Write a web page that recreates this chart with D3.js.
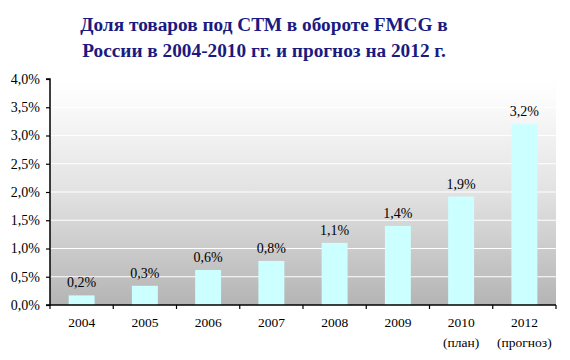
<!DOCTYPE html>
<html><head><meta charset="utf-8">
<script src="https://cdn.jsdelivr.net/npm/d3@7"></script>
<style>body{margin:0;background:#fff}svg{display:block}</style>
</head><body>
<svg id="c" width="570" height="360"></svg>
<script>
const titleLines = ["Доля товаров под СТМ в обороте FMCG в", "России в 2004-2010 гг. и прогноз на 2012 г."];
const categories = ["2004","2005","2006","2007","2008","2009","2010","2012"];
const subLabels = ["","","","","","","(план)","(прогноз)"];
const values = [0.17, 0.34, 0.62, 0.78, 1.1, 1.4, 1.92, 3.2];
const yTicks = [0, 0.5, 1.0, 1.5, 2.0, 2.5, 3.0, 3.5, 4.0];

const svg = d3.select("#c");
const m = {l:50, r:556, t:79, b:305};
const x = d3.scaleBand().domain(categories).range([m.l, m.r]).paddingInner(0.59).paddingOuter(0.295);
const xb = d3.scaleBand().domain(categories).range([m.l, m.r]);
const y = d3.scaleLinear().domain([0, 4]).range([m.b, m.t]);
const fmt = v => d3.format(".1f")(v).replace(".", ",") + "%";
const FF = "Liberation Serif, Times New Roman, serif";

const defs = svg.append("defs");
const g = defs.append("linearGradient").attr("id","bg").attr("x1",0).attr("y1",0).attr("x2",0).attr("y2",1);
g.append("stop").attr("offset","0%").attr("stop-color","#ffffff");
g.append("stop").attr("offset","8%").attr("stop-color","#fcfcfc");
g.append("stop").attr("offset","50%").attr("stop-color","#e2e2e2");
g.append("stop").attr("offset","100%").attr("stop-color","#b4b4b4");

svg.append("rect").attr("x", m.l).attr("y", m.t).attr("width", m.r - m.l).attr("height", m.b - m.t).attr("fill","url(#bg)");

// gridlines
svg.append("g").selectAll("line").data(yTicks.filter(d => d > 0)).join("line")
  .attr("x1", m.l).attr("x2", m.r).attr("y1", d => y(d)).attr("y2", d => y(d))
  .attr("stroke","#ffffff").attr("stroke-width",1.2);

// bars
svg.append("g").selectAll("rect").data(values).join("rect")
  .attr("x", (d,i) => x(categories[i])).attr("width", x.bandwidth())
  .attr("y", d => y(d)).attr("height", d => y(0) - y(d))
  .attr("fill","#ccffff");

// data labels
svg.append("g").selectAll("text").data(values).join("text")
  .attr("x", (d,i) => x(categories[i]) + x.bandwidth()/2)
  .attr("y", d => y(d) - 8)
  .attr("text-anchor","middle")
  .attr("font-family", FF)
  .attr("font-size", 14).attr("fill","#000")
  .text(d => fmt(d));

// y axis
const yAxis = d3.axisLeft(y).tickValues(yTicks).tickSize(4).tickPadding(6).tickFormat(fmt);
const ya = svg.append("g").attr("transform", `translate(${m.l},0)`).call(yAxis);
ya.select(".domain").attr("stroke","#000").attr("stroke-width",1.5).attr("d", `M-4,${m.t}H0V${m.b}H-4`);
ya.selectAll(".tick line").attr("stroke","#000").attr("stroke-width",1.2);
ya.selectAll("text").attr("font-family", FF).attr("font-size",14).attr("fill","#000");

// x axis
const xa = svg.append("g").attr("transform", `translate(0,${m.b})`);
xa.append("line").attr("x1", m.l).attr("x2", m.r).attr("stroke","#000").attr("stroke-width",1.5);
const edges = categories.map(c => xb(c)).concat([m.r]);
xa.selectAll("line.t").data(edges).join("line").attr("class","t")
  .attr("x1", d => d).attr("x2", d => d).attr("y1", 0).attr("y2", 4)
  .attr("stroke","#000").attr("stroke-width",1.2);
xa.selectAll("text.c").data(categories).join("text").attr("class","c")
  .attr("x", d => xb(d) + xb.bandwidth()/2).attr("y", 22)
  .attr("text-anchor","middle")
  .attr("font-family", FF).attr("font-size",13.5).attr("fill","#000")
  .text(d => d);
xa.selectAll("text.s").data(subLabels).join("text").attr("class","s")
  .attr("x", (d,i) => xb(categories[i]) + xb.bandwidth()/2).attr("y", 42)
  .attr("text-anchor","middle")
  .attr("font-family", FF).attr("font-size",13.5).attr("fill","#000")
  .text(d => d);

// title
svg.append("g").selectAll("text").data(titleLines).join("text")
  .attr("x", 264).attr("y", (d,i) => 31 + i*26)
  .attr("text-anchor","middle")
  .attr("font-family", FF)
  .attr("font-weight","bold").attr("font-size",19.3).attr("fill","#1a1a80")
  .text(d => d);
</script>
</body></html>
